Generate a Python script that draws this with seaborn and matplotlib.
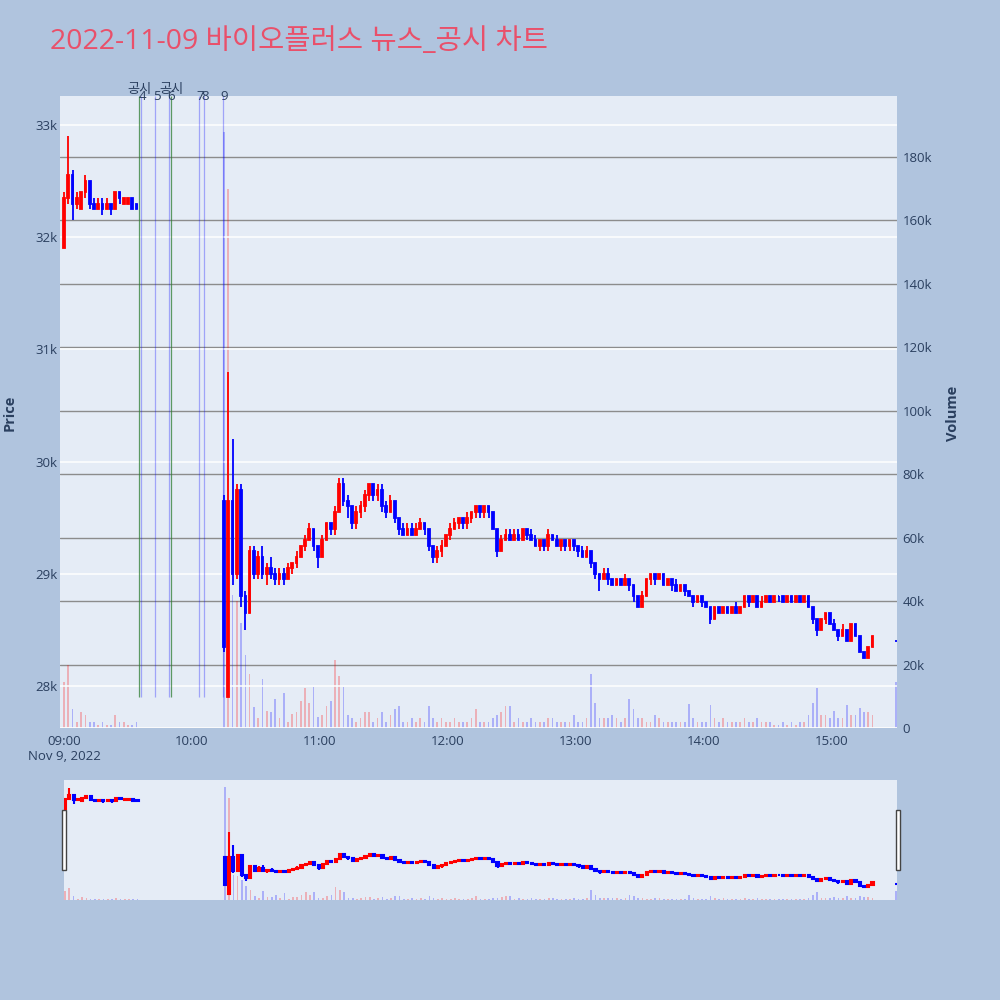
import numpy as np
import pandas as pd
import matplotlib
matplotlib.use("Agg")
import matplotlib.pyplot as plt
import seaborn as sns
from matplotlib.patches import Rectangle


title = "2022-11-09 바이오플러스 뉴스_공시 차트"

# 1. Data (2-minute candles, minutes after 09:00, price in won, volume in thousands)

bar_step = 2

# morning session 09:00 - 09:34
morning_start = 0
morning_open = [31900, 32350, 32550, 32300, 32250, 32400, 32500, 32300, 32250,
                32300, 32250, 32300, 32250, 32400, 32300, 32300, 32350, 32300]
morning_high = [32400, 32900, 32600, 32400, 32400, 32550, 32500, 32350, 32350,
                32350, 32350, 32300, 32400, 32400, 32350, 32350, 32350, 32300]
morning_low = [31900, 32300, 32150, 32250, 32250, 32350, 32250, 32250, 32250,
               32200, 32250, 32200, 32250, 32300, 32300, 32300, 32250, 32250]
morning_close = [32350, 32550, 32300, 32350, 32400, 32500, 32300, 32250, 32300,
                 32250, 32300, 32250, 32400, 32350, 32350, 32350, 32250, 32250]
morning_volume = [14.5, 20, 6, 2, 5, 4, 2, 2, 1, 2, 1, 1, 4, 2, 2, 1, 1, 2]

# trading resumes 10:15 - 15:19
afternoon_start = 75
afternoon_open = [
    29650, 27900, 29650, 29000, 29750, 28800, 28650, 29200, 29000, 29150,
    29000, 29050, 29000, 28950, 29000, 28950, 29050, 29100, 29150, 29250,
    29300, 29400, 29250, 29150, 29300, 29450, 29400, 29550, 29800, 29650,
    29600, 29450, 29550, 29600, 29700, 29800, 29700, 29750, 29600, 29550,
    29650, 29500, 29400, 29350, 29400, 29350, 29400, 29450, 29400, 29250,
    29150, 29200, 29250, 29350, 29400, 29450, 29500, 29450, 29500, 29550,
    29600, 29550, 29600, 29550, 29400, 29200, 29300, 29350, 29300, 29350,
    29300, 29400, 29350, 29300, 29250, 29300, 29250, 29350, 29300, 29250,
    29300, 29250, 29300, 29250, 29200, 29150, 29200, 29100, 29000, 28950,
    29000, 28950, 28900, 28950, 28900, 28950, 28900, 28800, 28700, 28800,
    28950, 29000, 28950, 29000, 28900, 28950, 28900, 28850, 28900, 28850,
    28800, 28750, 28800, 28750, 28700, 28600, 28700, 28650, 28700, 28650,
    28700, 28650, 28700, 28800, 28750, 28800, 28700, 28750, 28800, 28750,
    28800, 28800, 28750, 28800, 28750, 28800, 28750, 28800, 28700, 28600,
    28500, 28600, 28650, 28550, 28500, 28450, 28500, 28400, 28550, 28450,
    28300, 28250, 28350]
afternoon_high = [
    29700, 30800, 30200, 29800, 29800, 28850, 29250, 29250, 29200, 29250,
    29100, 29150, 29050, 29050, 29050, 29100, 29100, 29200, 29250, 29350,
    29450, 29400, 29250, 29350, 29450, 29450, 29600, 29850, 29850, 29700,
    29600, 29600, 29650, 29750, 29800, 29800, 29800, 29800, 29650, 29700,
    29650, 29500, 29450, 29450, 29450, 29450, 29500, 29450, 29400, 29250,
    29250, 29300, 29350, 29450, 29500, 29500, 29500, 29550, 29550, 29600,
    29600, 29600, 29600, 29550, 29400, 29350, 29400, 29400, 29400, 29400,
    29400, 29400, 29400, 29350, 29300, 29300, 29400, 29350, 29350, 29300,
    29300, 29300, 29300, 29250, 29250, 29250, 29200, 29100, 29000, 29050,
    29050, 28950, 28950, 28950, 29000, 28950, 28900, 28800, 28850, 28950,
    29000, 29000, 29000, 29000, 28950, 28950, 28950, 28900, 28900, 28850,
    28800, 28800, 28800, 28750, 28700, 28700, 28700, 28700, 28700, 28700,
    28750, 28700, 28800, 28800, 28800, 28800, 28800, 28800, 28800, 28800,
    28800, 28800, 28800, 28800, 28800, 28800, 28800, 28800, 28700, 28600,
    28600, 28650, 28650, 28600, 28500, 28550, 28500, 28550, 28550, 28450,
    28300, 28350, 28450]
afternoon_low = [
    28300, 27900, 28900, 28950, 28700, 28500, 28650, 28950, 28950, 28950,
    28900, 28950, 28900, 28900, 28900, 28950, 29000, 29050, 29150, 29200,
    29300, 29200, 29050, 29150, 29300, 29350, 29350, 29550, 29600, 29500,
    29400, 29400, 29500, 29550, 29650, 29650, 29650, 29550, 29500, 29550,
    29450, 29350, 29350, 29350, 29350, 29350, 29400, 29350, 29200, 29100,
    29100, 29150, 29250, 29300, 29400, 29400, 29400, 29400, 29450, 29500,
    29500, 29500, 29500, 29400, 29150, 29200, 29300, 29300, 29300, 29300,
    29300, 29300, 29300, 29250, 29200, 29200, 29200, 29300, 29250, 29200,
    29200, 29200, 29200, 29150, 29150, 29150, 29050, 28950, 28850, 28950,
    28900, 28900, 28900, 28900, 28900, 28850, 28750, 28700, 28700, 28800,
    28900, 28900, 28950, 28900, 28900, 28850, 28850, 28850, 28800, 28800,
    28700, 28750, 28700, 28700, 28550, 28600, 28650, 28650, 28650, 28650,
    28650, 28650, 28700, 28700, 28750, 28700, 28700, 28750, 28750, 28750,
    28750, 28750, 28750, 28750, 28750, 28750, 28750, 28700, 28550, 28450,
    28500, 28550, 28550, 28500, 28400, 28450, 28400, 28400, 28450, 28300,
    28250, 28250, 28350]
afternoon_close = [
    28350, 29650, 29000, 29750, 28800, 28650, 29200, 29000, 29150, 29000,
    29050, 29000, 28950, 29000, 28950, 29050, 29100, 29150, 29250, 29300,
    29400, 29250, 29150, 29300, 29450, 29400, 29550, 29800, 29650, 29600,
    29450, 29550, 29600, 29700, 29800, 29700, 29750, 29600, 29550, 29650,
    29500, 29400, 29350, 29400, 29350, 29400, 29450, 29400, 29250, 29150,
    29200, 29250, 29350, 29400, 29450, 29500, 29450, 29500, 29550, 29600,
    29550, 29600, 29550, 29400, 29200, 29300, 29350, 29300, 29350, 29300,
    29400, 29350, 29300, 29250, 29300, 29250, 29350, 29300, 29250, 29300,
    29250, 29300, 29250, 29200, 29150, 29200, 29100, 29000, 28950, 29000,
    28950, 28900, 28950, 28900, 28950, 28900, 28800, 28700, 28800, 28950,
    29000, 28950, 29000, 28900, 28950, 28900, 28850, 28900, 28850, 28800,
    28750, 28800, 28750, 28700, 28600, 28700, 28650, 28700, 28650, 28700,
    28650, 28700, 28800, 28750, 28800, 28700, 28750, 28800, 28750, 28800,
    28800, 28750, 28800, 28750, 28800, 28750, 28800, 28700, 28600, 28500,
    28600, 28650, 28550, 28500, 28450, 28500, 28400, 28550, 28450, 28300,
    28250, 28350, 28450]
afternoon_volume = [
    188, 170, 42, 40, 33, 23, 17, 6.5, 3, 15.5,
    5.5, 5, 9, 3, 11, 2, 4.5, 5, 8.5, 12.5,
    8, 13, 3.5, 4, 7, 8.5, 21.5, 16.5, 13, 4,
    3, 2, 3, 5, 5, 2, 3, 5, 2, 4,
    6, 7, 2, 2, 3, 2, 3, 2, 7, 3,
    2, 3, 2, 2, 3, 2, 2, 2, 3, 6,
    2, 2, 2, 3, 4, 5, 7, 7, 2, 3,
    2, 2, 3, 2, 2, 2, 3, 3, 2, 2,
    2, 2, 4, 2, 2, 3, 17, 8, 3, 3,
    3, 4, 3, 2, 3, 9, 6, 3, 3, 2,
    2, 4, 3, 2, 2, 2, 2, 2, 2, 7.5,
    3, 2, 2, 2, 7.3, 3, 2, 3, 2, 2,
    2, 2, 3, 2, 2, 3, 2, 2, 2, 1,
    1, 2, 1, 2, 1, 2, 2, 4, 7.8, 12.6,
    4, 4, 3, 5.4, 3, 3, 7.4, 4, 4, 6.3,
    5, 5, 4]

# closing auction 15:30
close_minute = 390
close_price = 28400
close_volume = 14.5

# news / disclosure markers (minutes after 09:00)
disclosure_minutes = [35.3, 50.3]
disclosure_labels = ["공시", "공시"]
news_minutes = [35.9, 42.7, 49.4, 63.4, 65.6, 74.4]
news_labels = ["4", "5", "6", "7", "8", "9"]

hour_ticks = [0, 60, 120, 180, 240, 300, 360]
hour_labels = ["09:00\nNov 9, 2022", "10:00", "11:00", "12:00", "13:00", "14:00", "15:00"]
price_ticks = [28000, 29000, 30000, 31000, 32000, 33000]
volume_ticks = [0, 20, 40, 60, 80, 100, 120, 140, 160, 180]


# 2. Frame

morning_minutes = np.arange(len(morning_open)) * bar_step + morning_start
afternoon_minutes = np.arange(len(afternoon_open)) * bar_step + afternoon_start

df = pd.DataFrame({
    "minute": np.concatenate([morning_minutes, afternoon_minutes, [close_minute]]),
    "open": morning_open + afternoon_open + [close_price],
    "high": morning_high + afternoon_high + [close_price],
    "low": morning_low + afternoon_low + [close_price],
    "close": morning_close + afternoon_close + [close_price],
    "volume": morning_volume + afternoon_volume + [close_volume],
})
df["dir"] = np.where(df["close"] > df["open"], "up", "down")


# 3. Style

BG = "#B0C4DE"
PLOT_BG = "#E5ECF6"
TXT = "#2A3F5F"
candle_colors = {"up": "#FF0000", "down": "#0000FF"}

sns.set_theme(style="white", rc={"figure.facecolor": BG, "axes.facecolor": PLOT_BG})
plt.rcParams["font.family"] = ["Open Sans", "Noto Sans CJK KR", "DejaVu Sans"]

x_main = (-1.9, 390.5)
x_slider = (-0.5, 390.5)
price_lim = (27626, 33258)
volume_lim = (0, 199.2)


def draw_panel(ax_p, ax_v, body_w, lw):
    # volume behind, candles on top
    ax_v.set_zorder(0)
    ax_p.set_zorder(1)
    ax_p.patch.set_visible(False)
    ax_v.patch.set_visible(True)
    ax_v.patch.set_facecolor(PLOT_BG)

    sns.histplot(data=df, x="minute", weights="volume", hue="dir",
                 hue_order=["up", "down"], palette=candle_colors,
                 binwidth=1, binrange=(-0.5, 390.5), shrink=0.8,
                 alpha=0.25, linewidth=0, legend=False, ax=ax_v)

    colors = df["dir"].map(candle_colors)
    ax_p.vlines(df["minute"], df["low"], df["high"], colors=colors,
                linewidth=lw, zorder=3)
    ax_p.bar(df["minute"], (df["close"] - df["open"]).abs(),
             bottom=df[["open", "close"]].min(axis=1), width=body_w,
             color=colors, edgecolor=colors, linewidth=lw, zorder=3)

    ax_p.set_ylim(*price_lim)
    ax_v.set_ylim(*volume_lim)
    for a in (ax_p, ax_v):
        for s in a.spines.values():
            s.set_visible(False)
        a.set_xlabel("")
        a.set_ylabel("")


fig = plt.figure(figsize=(10, 10), facecolor=BG)

# 4. Main chart

ax = fig.add_axes([0.060, 0.272, 0.837, 0.632])
axv = ax.twinx()
draw_panel(ax, axv, 0.8, 1.3)

ax.set_xlim(*x_main)

ax.yaxis.grid(True, color="white", linewidth=1.1)
ax.xaxis.grid(False)
ax.set_axisbelow(True)
axv.yaxis.grid(True, color="#8C8C8C", linewidth=1.0)
axv.xaxis.grid(False)
axv.axhline(0, color="white", linewidth=2)

ax.set_xticks(hour_ticks)
ax.set_xticklabels(hour_labels)
ax.set_yticks(price_ticks)
ax.set_yticklabels([f"{p / 1000:g}k" for p in price_ticks])
axv.set_yticks(volume_ticks)
axv.set_yticklabels([f"{v}k" if v else "0" for v in volume_ticks])

ax.tick_params(axis="x", length=0, labelsize=9.5, labelcolor=TXT, pad=5)
ax.tick_params(axis="y", length=0, labelsize=9.5, labelcolor=TXT, pad=1.5)
axv.tick_params(axis="y", length=0, labelsize=9.5, labelcolor=TXT, pad=4)

# news lines
line_low = df["low"].min()
ax.vlines(disclosure_minutes, line_low, price_lim[1], colors="#2E7D32",
          alpha=0.75, linewidth=0.9, zorder=2)
ax.vlines(news_minutes, line_low, price_lim[1], colors="#0000FF",
          alpha=0.3, linewidth=0.9, zorder=2)

for m, lab in zip(disclosure_minutes, disclosure_labels):
    ax.annotate(lab, xy=(m, 1.0), xycoords=ax.get_xaxis_transform(),
                xytext=(0, 4.5), textcoords="offset points",
                ha="center", va="center", fontsize=9.5, color=TXT,
                annotation_clip=False)
for m, lab in zip(news_minutes, news_labels):
    ax.annotate(lab, xy=(m, 1.0), xycoords=ax.get_xaxis_transform(),
                xytext=(1, 0), textcoords="offset points",
                ha="center", va="center", fontsize=9.5, color=TXT,
                annotation_clip=False)

# 5. Range slider

sax = fig.add_axes([0.064, 0.100, 0.833, 0.120])
saxv = sax.twinx()
draw_panel(sax, saxv, 1.0, 1.5)
sax.set_xlim(*x_slider)
for a in (sax, saxv):
    a.set_xticks([])
    a.set_yticks([])
    a.grid(False)

for hx in (0.0615, 0.8955):
    fig.add_artist(Rectangle((hx, 0.130), 0.004, 0.060, transform=fig.transFigure,
                             facecolor="white", edgecolor="#444444", linewidth=1))

# 6. Titles

fig.text(0.050, 0.958, title, fontsize=20.5, color="#E9506A", ha="left", va="center")
fig.text(0.010, 0.587, "Price", rotation=90, ha="center", va="center",
         fontsize=10.5, fontweight="bold", color=TXT)
fig.text(0.953, 0.587, "Volume", rotation=90, ha="center", va="center",
         fontsize=10.5, fontweight="bold", color=TXT)

fig.savefig("out.png", dpi=100, facecolor=fig.get_facecolor())
